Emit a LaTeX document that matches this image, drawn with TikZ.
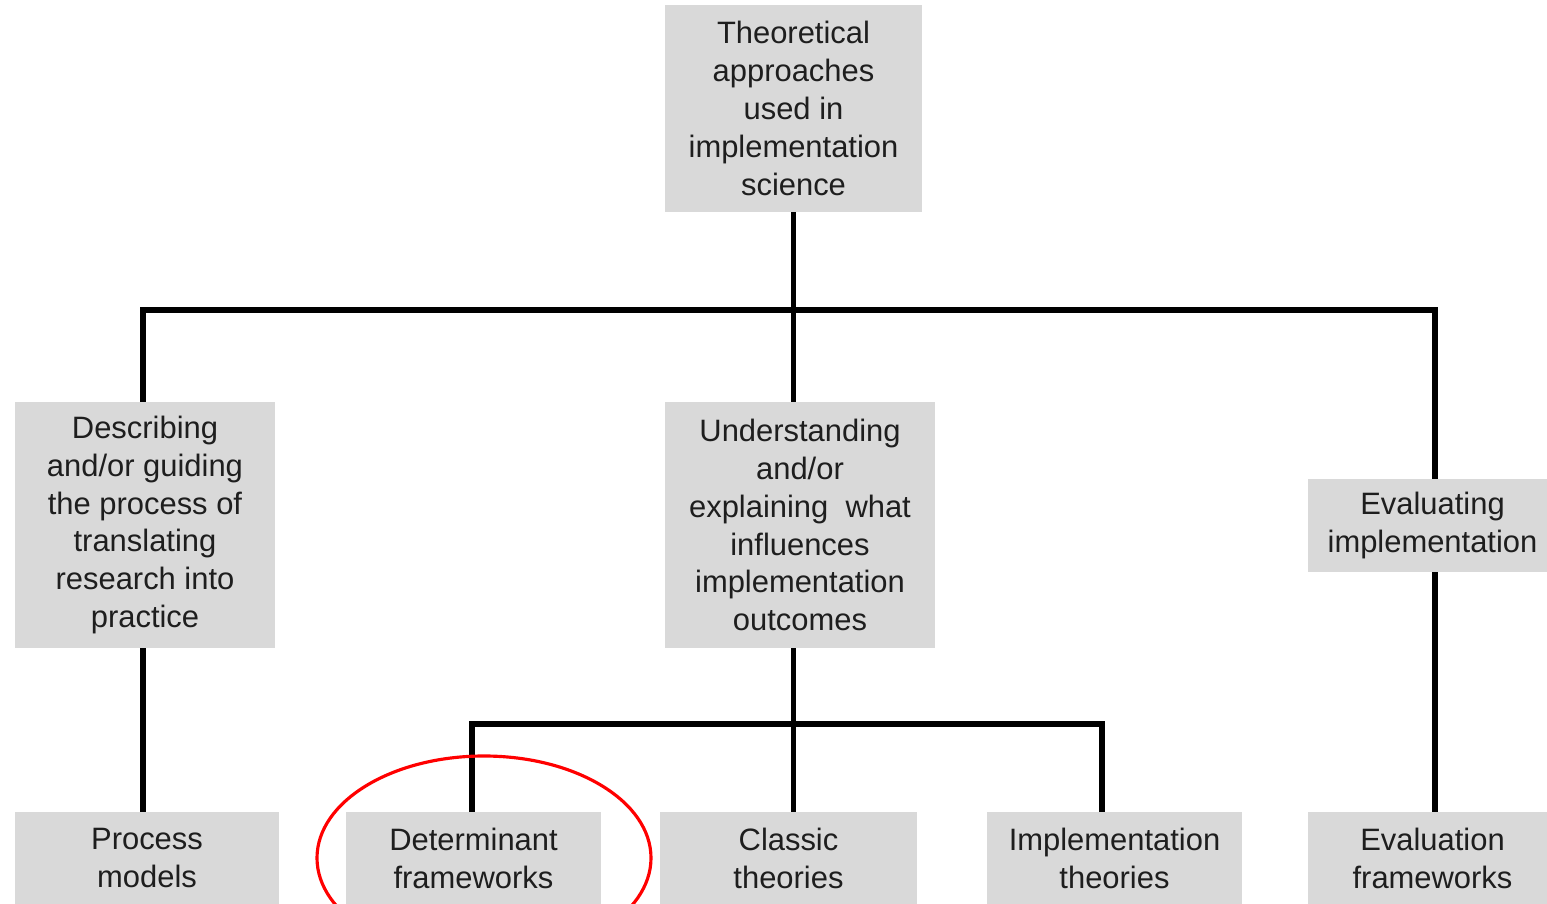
\documentclass[tikz,border=0pt]{standalone}
\usepackage{fontspec}
\setmainfont{Liberation Sans}
\tikzset{
approach/.style={fill=boxgray, text=boxtext, align=center, inner sep=0pt, font=\fontsize{17.6}{21.6}\selectfont},
link/.style={line width=3pt},
highlight/.style={red, line width=1.8pt}
}
\definecolor{boxgray}{RGB}{217,217,217}
\definecolor{boxtext}{RGB}{30,30,30}

\begin{document}
\begin{tikzpicture}
  \useasboundingbox (0,0) rectangle (30.94,-18.08);
  % top level
  \node[approach, minimum width=5.14cm, minimum height=4.14cm] (root) at (15.87,-2.17)
    {Theoretical\\approaches\\used in\\implementation\\science};
  % aims
  \node[approach, minimum width=5.2cm, minimum height=4.92cm] (describe) at (2.9,-10.5)
    {Describing\\and/or guiding\\the process of\\translating\\research into\\practice};
  \node[approach, minimum width=5.4cm, minimum height=4.92cm] (understand) at (16.0,-10.5)
    {Understanding\\and/or\\explaining\ \ what\\influences\\implementation\\outcomes};
  \node[approach, minimum width=4.98cm, minimum height=1.86cm] (evaluate) at (28.65,-10.51)
    {Evaluating\\implementation};
  % categories
  \node[approach, minimum width=5.28cm, minimum height=1.84cm] (process) at (2.94,-17.16)
    {Process\\models};
  \node[approach, minimum width=5.1cm, minimum height=1.84cm] (determinant) at (9.47,-17.16)
    {Determinant\\frameworks};
  \node[approach, minimum width=5.14cm, minimum height=1.84cm] (classic) at (15.77,-17.16)
    {Classic\\theories};
  \node[approach, minimum width=5.1cm, minimum height=1.84cm] (impl) at (22.29,-17.16)
    {Implementation\\theories};
  \node[approach, minimum width=4.98cm, minimum height=1.84cm] (evalfw) at (28.65,-17.16)
    {Evaluation\\frameworks};
  \coordinate (bus1) at (15.86,-6.2);
  \coordinate (bus2) at (15.86,-14.48);
  % connectors
  \draw[link] (root.south) -- (root.south |- understand.north);
  \draw[link] ([xshift=-0.04cm]describe.north) |- (bus1) -| ([xshift=0.05cm]evaluate.north);
  \draw[link] ([xshift=-0.04cm]describe.south) -- ([xshift=-0.04cm]describe.south |- process.north);
  \draw[link] (root.south |- understand.south) -- (root.south |- classic.north);
  \draw[link] ([xshift=-0.03cm]determinant.north) |- (bus2) -| ([xshift=-0.25cm]impl.north);
  \draw[link] ([xshift=0.05cm]evaluate.south) -- ([xshift=0.05cm]evalfw.north);
  % highlight
  \draw[highlight] (9.68,-17.16) ellipse [x radius=3.34, y radius=2.04];
\end{tikzpicture}
\end{document}
